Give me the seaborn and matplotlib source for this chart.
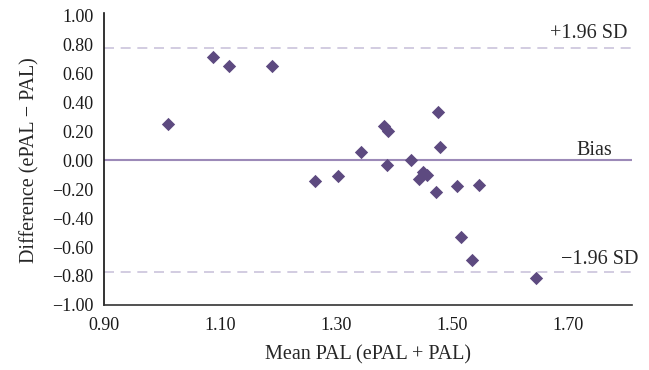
import matplotlib
matplotlib.use("Agg")
import matplotlib.pyplot as plt
import seaborn as sns
import pandas as pd

# Bland-Altman data
mean_pal = [1.010, 1.088, 1.116, 1.189, 1.343, 1.263, 1.304, 1.382, 1.390,
            1.476, 1.479, 1.387, 1.429, 1.450, 1.443, 1.456, 1.472, 1.509,
            1.546, 1.515, 1.535, 1.645]
diff_pal = [0.255, 0.713, 0.655, 0.651, 0.056, -0.146, -0.106, 0.241, 0.206,
            0.336, 0.090, -0.030, 0.005, -0.080, -0.127, -0.104, -0.220, -0.174,
            -0.167, -0.532, -0.690, -0.813]
bias = 0.0
upper_loa = 0.775
lower_loa = -0.775
x_ticks = [0.90, 1.10, 1.30, 1.50, 1.70]
y_ticks = [1.00, 0.80, 0.60, 0.40, 0.20, 0.00, -0.20, -0.40, -0.60, -0.80, -1.00]

df = pd.DataFrame({"mean": mean_pal, "diff": diff_pal})

sns.set_style("white")
plt.rcParams['font.family'] = ['Liberation Serif', 'DejaVu Serif']

fig = plt.figure(figsize=(6.49, 3.70), dpi=100)
ax = fig.add_axes([0.160, 0.176, 0.814, 0.781])

# reference lines
ax.axhline(bias, color="#9c8ab8", lw=1.5, zorder=1)
ax.axhline(upper_loa, color="#cbc3dc", lw=1.2, ls=(0, (6, 4)), zorder=1)
ax.axhline(lower_loa, color="#cbc3dc", lw=1.2, ls=(0, (6, 4)), zorder=1)

sns.scatterplot(data=df, x="mean", y="diff", marker="D", s=46,
                color="#5d4a80", edgecolor="#5d4a80", linewidth=0, ax=ax, zorder=3)

ax.set_xlim(0.90, 1.81)
ax.set_ylim(-1.0, 1.0)
ax.set_xticks(x_ticks)
ax.set_xticklabels([f"{v:.2f}" for v in x_ticks])
ax.set_yticks(y_ticks)
ax.set_yticklabels([f"{v:.2f}".replace("-", "\u2212") if abs(v) > 1e-9 else "0.00"
                    for v in y_ticks])
ax.tick_params(axis="both", length=0, labelsize=13, colors="#1a1a1a")
ax.tick_params(axis="y", pad=7.5)
ax.tick_params(axis="x", pad=9)

for side in ["top", "right"]:
    ax.spines[side].set_visible(False)
ax.spines["left"].set_color("#111111")
ax.spines["left"].set_linewidth(1.2)
ax.spines["bottom"].set_color("#333333")
ax.spines["bottom"].set_linewidth(1.2)
ax.spines["left"].set_bounds(-1.0, 1.02)

ax.set_xlabel("Mean PAL (ePAL + PAL)", fontsize=14.5, labelpad=8)
ax.set_ylabel("Difference (ePAL \u2212 PAL)", fontsize=14.5, labelpad=9)

ax.text(1.802, upper_loa + 0.07, "+1.96 SD", ha="right", va="baseline", fontsize=14.5)
ax.text(1.776, bias + 0.04, "Bias", ha="right", va="baseline", fontsize=14.5)
ax.text(1.821, lower_loa + 0.06, "\u22121.96 SD", ha="right", va="baseline", fontsize=14.5)

fig.savefig("out.png", dpi=100)
